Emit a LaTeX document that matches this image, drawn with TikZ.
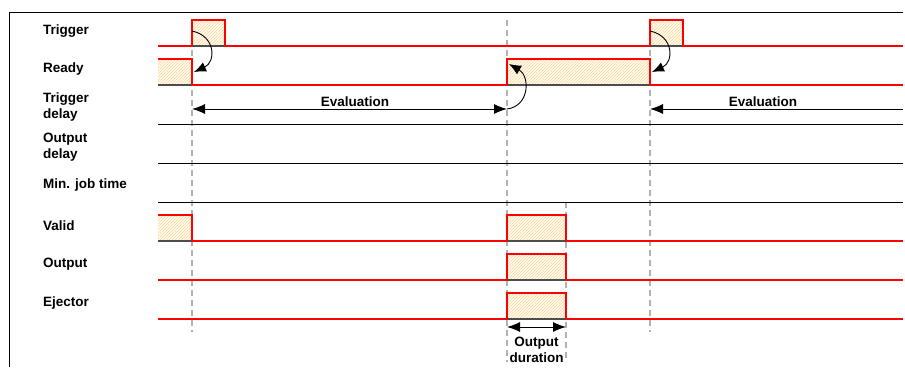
\documentclass[tikz,border=0pt]{standalone}
\usepackage{fontspec}
\setmainfont{Liberation Sans}
\usetikzlibrary{arrows.meta, patterns}

% one hatched high phase of a signal: #1 rise, #2 fall, #3 baseline
\newcommand{\pulse}[3]{%
  \fill[hatch] (#1,#3) rectangle (#2,#3-26);
  \draw[under] (#1,#3) -- (#2,#3);
  \draw[hi] (#1,#3) |- (#2,#3-26) -- (#2,#3);}

\begin{document}
\begin{tikzpicture}[
  x=1pt, y=-1pt,
  every node/.style={font=\fontsize{13.5}{16}\selectfont\bfseries},
  siglabel/.style={anchor=west, align=left, inner sep=0pt},
  frame/.style={draw=black, line width=1.2pt},
  idle/.style={draw=black, line width=1pt},
  lo/.style={draw=red, line width=1.5pt},
  hi/.style={draw=red, line width=1.5pt},
  under/.style={draw=black!70, line width=1.5pt},
  hatch/.style={fill=yellow!8, postaction={pattern=north east lines,
                pattern color=orange!35}},
  guide/.style={draw=black!30, line width=1.3pt, dash pattern=on 6pt off 4pt},
  dim/.style={{Latex[length=13pt,width=10pt]}-{Latex[length=13pt,width=10pt]},
              line width=1pt},
  dimr/.style={-{Latex[length=13pt,width=10pt]}, line width=1pt},
  swing/.style={-{Latex[length=12pt,width=10pt]}, line width=0.9pt}
]
  \useasboundingbox (0,0) rectangle (905,367);

  % ── Frame ────────────────────────────────────────────────────
  \draw[frame] (9.5,367) -- (9.5,12.5) -- (903,12.5);

  % ── Signal names ─────────────────────────────────────────────
  \node[siglabel] (l_trig)  at (43,31)  {Trigger};
  \node[siglabel] (l_ready) at (43,69)  {Ready};
  \node[siglabel] (l_tdel)  at (43,107) {Trigger\\delay};
  \node[siglabel] (l_odel)  at (43,147) {Output\\delay};
  \node[siglabel] (l_job)   at (43,185) {Min. job time};
  \node[siglabel] (l_valid) at (43,226) {Valid};
  \node[siglabel] (l_out)   at (43,264) {Output};
  \node[siglabel] (l_eject) at (43,303) {Ejector};

  % ── Time markers ─────────────────────────────────────────────
  \foreach \x/\ya/\yb in {192/20/332, 507/20/362, 566/202/362, 650/20/332}
    \draw[guide] (\x,\ya) -- (\x,\yb);

  % ── Time lines ───────────────────────────────────────────────
  \foreach \y in {124,163,202}
    \draw[idle] (158,\y) -- (903,\y);
  \foreach \y in {46,85,241,280,319}
    \draw[lo] (158,\y) -- (903,\y);

  % ── High phases ──────────────────────────────────────────────
  \pulse{192}{225}{46}
  \pulse{650}{683}{46}
  \pulse{507}{650}{85}
  \foreach \y in {241,280,319} {
    \pulse{507}{566}{\y}
  }
  \foreach \y in {85,241} {
    \fill[hatch] (158,\y) rectangle (192,\y-26);
    \draw[under] (158,\y) -- (192,\y);
    \draw[hi] (158,\y-26) -- (192,\y-26) -- (192,\y);
  }

  % ── Evaluation spans ─────────────────────────────────────────
  \coordinate (ev1_a) at (192,109);
  \coordinate (ev1_b) at (507,109);
  \coordinate (ev2_a) at (903,109);
  \coordinate (ev2_b) at (650,109);
  \draw[dim]  (ev1_a) -- (ev1_b);
  \draw[dimr] (ev2_a) -- (ev2_b);
  \node (ev1) at (355,102) {Evaluation};
  \node (ev2) at (763,102) {Evaluation};

  % ── Causal swings ────────────────────────────────────────────
  \coordinate (tr1)  at (192,31);
  \coordinate (rd1)  at (194,72);
  \coordinate (rd2)  at (509,64);
  \coordinate (tr2)  at (650,31);
  \coordinate (rd3)  at (652,72);
  \draw[swing] (tr1) .. controls (216,36) and (216,62) .. (rd1);
  \draw[swing] (ev1_b) .. controls (530,106) and (530,76) .. (rd2);
  \draw[swing] (tr2) .. controls (674,36) and (674,62) .. (rd3);

  % ── Output duration ──────────────────────────────────────────
  \coordinate (od_a) at (507,327);
  \coordinate (od_b) at (566,327);
  \draw[dim] (od_a) -- (od_b);
  \node[align=center, inner sep=0pt] (od) at (536.5,350) {Output\\duration};

\end{tikzpicture}
\end{document}
